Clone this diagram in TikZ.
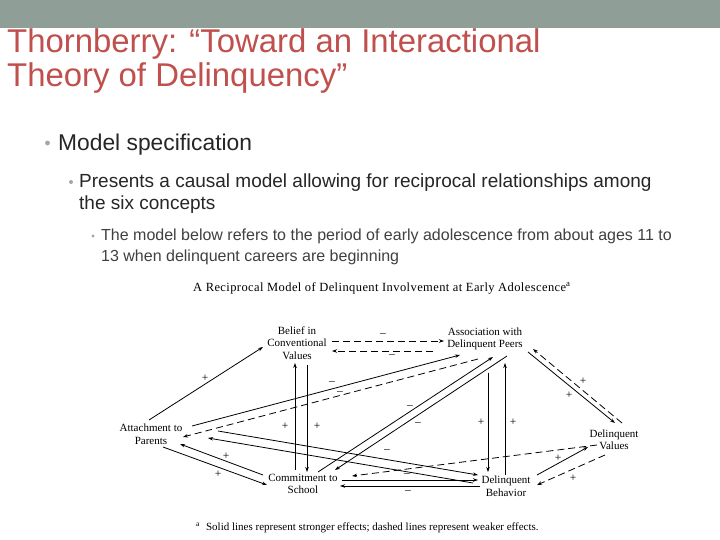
\documentclass[tikz,border=0pt]{standalone}
\usepackage{fontspec}
\setmainfont{Liberation Sans}
\newfontfamily\dgfont{Liberation Serif}
\newfontfamily\dgwide[LetterSpace=3.3]{Liberation Serif}
\usetikzlibrary{arrows.meta,calc}
\definecolor{barcol}{HTML}{8F9E96}
\definecolor{titlecol}{HTML}{C0504D}
\definecolor{bulletcol}{HTML}{A6A6A6}
\definecolor{txtA}{HTML}{262626}
\definecolor{txtC}{HTML}{404040}
\begin{document}
\begin{tikzpicture}[x=1pt,y=-1pt,
  title/.style={font=\fontsize{32.9}{34}\selectfont, text=titlecol, anchor=base west, inner sep=0pt},
  lvlA/.style={font=\fontsize{22.8}{26}\selectfont, text=txtA, anchor=base west, inner sep=0pt},
  lvlB/.style={font=\fontsize{19}{22}\selectfont, text=txtA, anchor=base west, inner sep=0pt},
  lvlC/.style={font=\fontsize{16}{21}\selectfont, text=txtC, anchor=base west, inner sep=0pt},
  bul/.style={fill=bulletcol},
  lbl/.style={font=\dgfont\fontsize{11}{12.5}\selectfont, align=center, inner sep=0pt},
  sgn/.style={font=\dgfont\fontsize{11.5}{11.5}\selectfont, inner sep=0pt},
  strong/.style={-{Stealth[length=5pt,width=3.5pt]}, line width=0.8pt},
  weak/.style={strong, dash pattern=on 7pt off 4pt},
]
\useasboundingbox (0,0) rectangle (720,540);
\fill[white] (0,0) rectangle (720,540);
\fill[barcol] (0,0) rectangle (720,28);

% title
\node[title] (t1) at (7,53) {Thornberry: “Toward an Interactional};
\node[title] (t2) at (7,87) {Theory of Delinquency”};

% bullets
\fill[bul] (47.5,143) circle (2.4);
\node[lvlA] (b1) at (58,151) {Model specification};
\fill[bul] (71,182) circle (2);
\node[lvlB] (b2a) at (79,187.5) {Presents a causal model allowing for reciprocal relationships among};
\node[lvlB] (b2b) at (79,209.5) {the six concepts};
\fill[bul] (93,236) circle (1.6);
\node[lvlC] (b3a) at (101,240.5) {The model below refers to the period of early adolescence from about ages 11 to};
\node[lvlC] (b3b) at (101,261.5) {13 when delinquent careers are beginning};

% diagram title and footnote
\node[font=\dgwide\fontsize{12.5}{13}\selectfont, anchor=base west, inner sep=0pt] (dt) at (193,291)
  {A Reciprocal Model of Delinquent Involvement at Early Adolescence\textsuperscript{a}};
\node[font=\dgfont\fontsize{11}{12}\selectfont, anchor=base west, inner sep=0pt] (fn) at (196,530)
  {\textsuperscript{a}\hspace{6pt}Solid lines represent stronger effects; dashed lines represent weaker effects.};

% concept nodes
\node[lbl] (B) at (297,343) {Belief in\\Conventional\\Values};
\node[lbl] (A) at (485,339) {Association with\\Delinquent Peers};
\node[lbl] (P) at (151,434) {Attachment to\\Parents};
\node[lbl] (V) at (614,440) {Delinquent\\Values};
\node[lbl] (C) at (303,484) {Commitment to\\School};
\node[lbl] (D) at (506,486) {Delinquent\\Behavior};

% connectors
\draw[strong] ($(P)+(-2,-14)$) -- ($(B)+(-34,4)$);
\draw[weak]   ($(B)+(35,-2)$) -- ($(A)+(-41,2)$);
\draw[weak]   ($(A)+(-52,12)$) -- ($(B)+(35,8)$);
\draw[strong] ($(C)+(-8,-14)$) -- ($(B)+(-2,20)$);
\draw[strong] ($(B)+(10,22)$) -- ($(C)+(4,-12)$);
\draw[strong] ($(P)+(41,-8)$) -- ($(A)+(-25,16)$);
\draw[weak]   ($(A)+(-7,20)$) -- ($(P)+(32,3)$);
\draw[strong] ($(C)+(15,-12)$) -- ($(A)+(8,18)$);
\draw[strong] ($(A)+(22,17)$) -- ($(C)+(32,-14)$);
\draw[strong] ($(P)+(67,-3)$) -- ($(D)+(-28,-11)$);
\draw[strong] ($(D)+(-33,-3)$) -- ($(P)+(57,4)$);
\draw[strong] ($(C)+(39,-4)$) -- ($(D)+(-28,-6)$);
\draw[strong] ($(D)+(-26,0)$) -- ($(C)+(37,2)$);
\draw[weak]   ($(V)+(-17,5)$) -- ($(C)+(49,-8)$);
\draw[strong] ($(A)+(43,13)$) -- ($(V)+(1,-17)$);
\draw[weak]   ($(V)+(8,-17)$) -- ($(A)+(48,10)$);
\draw[strong] ($(A)+(3,34)$) -- ($(D)+(-18,-14)$);
\draw[strong] ($(D)+(-1,-11)$) -- ($(A)+(20,24)$);
\draw[strong] ($(D)+(31,-11)$) -- ($(V)+(-26,7)$);
\draw[weak]   ($(V)+(-9,15)$) -- ($(D)+(31,-1)$);
\draw[strong] ($(P)+(12,13)$) -- ($(C)+(-36,1)$);
\draw[strong] ($(C)+(-40,-9)$) -- ($(P)+(29,10)$);

% signs
\node[sgn] (s1) at (205,378) {+};
\node[sgn] (s2) at (383,335) {–};
\node[sgn] (s3) at (392,356) {–};
\node[sgn] (s4) at (285,426) {+};
\node[sgn] (s5) at (317,426) {+};
\node[sgn] (s6) at (332,383) {–};
\node[sgn] (s7) at (340,393) {–};
\node[sgn] (s8) at (410,407) {–};
\node[sgn] (s9) at (418,424) {–};
\node[sgn] (s10) at (387,451) {–};
\node[sgn] (s11) at (407,475) {–};
\node[sgn] (s12) at (408,492) {–};
\node[sgn] (s13) at (583,381) {+};
\node[sgn] (s14) at (569,395) {+};
\node[sgn] (s15) at (481,422) {+};
\node[sgn] (s16) at (513,422) {+};
\node[sgn] (s17) at (558,458) {+};
\node[sgn] (s18) at (573,478) {+};
\node[sgn] (s19) at (226,456) {+};
\node[sgn] (s20) at (218,474) {+};
\end{tikzpicture}
\end{document}
